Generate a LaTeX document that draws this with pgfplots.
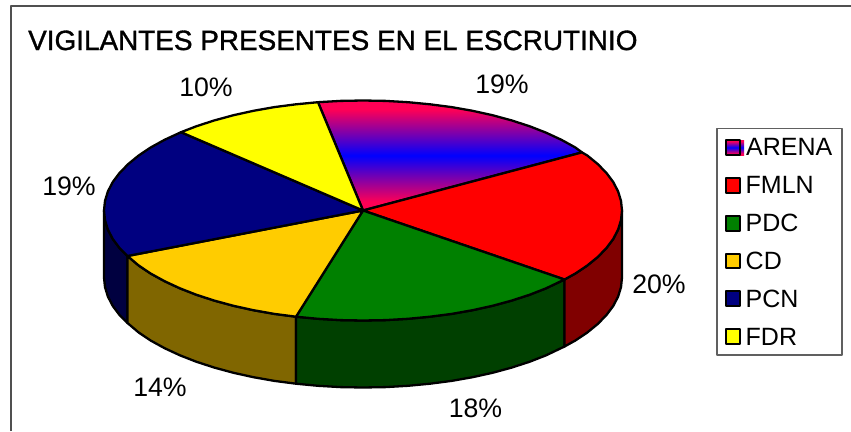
\documentclass[border=0pt]{standalone}
\usepackage{fontspec}
\setmainfont{Liberation Sans}
\newfontfamily\titlefont[FakeBold=1.2]{Liberation Sans}
\usepackage{pgfplots}
\pgfplotsset{compat=1.18}
\definecolor{cArena}{HTML}{FF0055}
\definecolor{cBlue}{HTML}{0000FF}
\definecolor{cRed}{HTML}{FF0000}
\definecolor{cGreen}{HTML}{008000}
\definecolor{cGold}{HTML}{FFCC00}
\definecolor{cNavy}{HTML}{000080}
\definecolor{cYel}{HTML}{FFFF00}
\definecolor{sRed}{HTML}{800000}
\definecolor{sGreen}{HTML}{004000}
\definecolor{sGold}{HTML}{806600}
\definecolor{sNavy}{HTML}{000040}
\definecolor{frameg}{HTML}{505050}
\definecolor{legg}{HTML}{606060}
\pgfdeclareverticalshading{arenashade}{100bp}{color(0bp)=(cArena); color(29bp)=(cArena); color(50bp)=(cBlue); color(71bp)=(cArena); color(100bp)=(cArena)}
\begin{document}
\begin{tikzpicture}
\useasboundingbox (0,0) rectangle (851pt,431pt);
\begin{axis}[
  at={(0,0)}, anchor=south west,
  scale only axis, width=851pt, height=431pt,
  xmin=0, xmax=851, ymin=0, ymax=431, y dir=reverse,
  hide axis,
  every axis plot/.append style={line join=round},
]
% frame
\addplot[draw=frameg, line width=2pt] coordinates {(11,431) (11,5.5) (851,5.5)};
% sides
\def\w{2.3pt}
\addplot[draw=black, line width=\w, fill=sNavy] coordinates {(104,210.5)(105,220.1)(107.9,229.6)(112.8,239)(119.6,248.1)(127.5,256)(127.5,323)(119.6,315.1)(112.8,306)(107.9,296.6)(105,287.1)(104,277.5)} --cycle;
\addplot[draw=black, line width=\w, fill=sGold] coordinates {(127.5,256)(138.7,265.5)(150.8,273.6)(164.6,281.2)(179.9,288.3)(196.5,294.8)(214.4,300.6)(233.5,305.8)(253.5,310.2)(274.4,313.9)(296,316.7)(296,383.7)(274.4,380.9)(253.5,377.2)(233.5,372.8)(214.4,367.6)(196.5,361.8)(179.9,355.3)(164.6,348.2)(150.8,340.6)(138.7,332.5)(127.5,323)} --cycle;
\addplot[draw=black, line width=\w, fill=sGreen] coordinates {(296,316.7)(318,318.8)(340.4,320.1)(363,320.5)(385.6,320.1)(408,318.8)(430,316.7)(451.6,313.9)(472.5,310.2)(492.5,305.8)(511.6,300.6)(529.5,294.8)(546.1,288.3)(564.5,279.5)(564.5,346.5)(546.1,355.3)(529.5,361.8)(511.6,367.6)(492.5,372.8)(472.5,377.2)(451.6,380.9)(430,383.7)(408,385.8)(385.6,387.1)(363,387.5)(340.4,387.1)(318,385.8)(296,383.7)} --cycle;
\addplot[draw=black, line width=\w, fill=sRed] coordinates {(564.5,279.5)(575.2,273.6)(587.3,265.5)(597.7,257)(606.4,248.1)(613.2,239)(618.1,229.6)(621,220.1)(622,210.5)(622,277.5)(621,287.1)(618.1,296.6)(613.2,306)(606.4,315.1)(597.7,324)(587.3,332.5)(575.2,340.6)(564.5,346.5)} --cycle;
% top faces
\addplot[draw=black, line width=\w, shade, shading=arenashade] coordinates {(363,210.5)(318,102.2)(340.4,100.9)(363,100.5)(385.6,100.9)(408,102.2)(430,104.3)(451.6,107.1)(472.5,110.8)(492.5,115.2)(511.6,120.4)(529.5,126.2)(546.1,132.7)(561.4,139.8)(575.2,147.4)(582,152.4)} --cycle;
\addplot[draw=black, line width=\w, fill=cRed] coordinates {(363,210.5)(582,152.4)(587.3,155.5)(597.7,164)(606.4,172.9)(613.2,182)(618.1,191.4)(621,200.9)(622,210.5)(621,220.1)(618.1,229.6)(613.2,239)(606.4,248.1)(597.7,257)(587.3,265.5)(575.2,273.6)(564.5,279.5)} --cycle;
\addplot[draw=black, line width=\w, fill=cGreen] coordinates {(363,210.5)(564.5,279.5)(546.1,288.3)(529.5,294.8)(511.6,300.6)(492.5,305.8)(472.5,310.2)(451.6,313.9)(430,316.7)(408,318.8)(385.6,320.1)(363,320.5)(340.4,320.1)(318,318.8)(296,316.7)} --cycle;
\addplot[draw=black, line width=\w, fill=cGold] coordinates {(363,210.5)(296,316.7)(274.4,313.9)(253.5,310.2)(233.5,305.8)(214.4,300.6)(196.5,294.8)(179.9,288.3)(164.6,281.2)(150.8,273.6)(138.7,265.5)(127.5,256)} --cycle;
\addplot[draw=black, line width=\w, fill=cNavy] coordinates {(363,210.5)(127.5,256)(119.6,248.1)(112.8,239)(107.9,229.6)(105,220.1)(104,210.5)(105,200.9)(107.9,191.4)(112.8,182)(119.6,172.9)(128.3,164)(138.7,155.5)(150.8,147.4)(164.6,139.8)(181,132.2)} --cycle;
\addplot[draw=black, line width=\w, fill=cYel] coordinates {(363,210.5)(181,132.2)(196.5,126.2)(214.4,120.4)(233.5,115.2)(253.5,110.8)(274.4,107.1)(296,104.3)(318,102.2)} --cycle;
% legend box
\addplot[draw=legg, line width=1.3pt, fill=white] coordinates {(717,128.5)(842,128.5)(842,355)(717,355)} --cycle;
% legend swatches
\addplot[draw=none, shade, shading=arenashade] coordinates {(726,140)(744,140)(744,155)(726,155)} --cycle;
\addplot[draw=black, line width=2.3pt] coordinates {(725.7,140)(740.3,140)(740.3,155)(725.7,155)} --cycle;
\addplot[draw=black, line width=2.3pt, fill=cRed] coordinates {(725.7,178)(740.3,178)(740.3,192.7)(725.7,192.7)} --cycle;
\addplot[draw=black, line width=2.3pt, fill=cGreen] coordinates {(725.7,216)(740.3,216)(740.3,230.7)(725.7,230.7)} --cycle;
\addplot[draw=black, line width=2.3pt, fill=cGold] coordinates {(725.7,253.7)(740.3,253.7)(740.3,268.3)(725.7,268.3)} --cycle;
\addplot[draw=black, line width=2.3pt, fill=cNavy] coordinates {(725.7,291.3)(740.3,291.3)(740.3,306)(725.7,306)} --cycle;
\addplot[draw=black, line width=2.3pt, fill=cYel] coordinates {(725.7,329.3)(740.3,329.3)(740.3,344)(725.7,344)} --cycle;
% legend text
\node[anchor=base west, inner sep=0pt, font=\fontsize{25}{26}\selectfont] at (axis cs:746,155.7) {ARENA};
\node[anchor=base west, inner sep=0pt, font=\fontsize{25}{26}\selectfont] at (axis cs:745.5,193.3) {FMLN};
\node[anchor=base west, inner sep=0pt, font=\fontsize{25}{26}\selectfont] at (axis cs:745.5,231.5) {PDC};
\node[anchor=base west, inner sep=0pt, font=\fontsize{25}{26}\selectfont] at (axis cs:745.5,269) {CD};
\node[anchor=base west, inner sep=0pt, font=\fontsize{25}{26}\selectfont] at (axis cs:745.5,307) {PCN};
\node[anchor=base west, inner sep=0pt, font=\fontsize{25}{26}\selectfont] at (axis cs:745.5,345) {FDR};
% data labels
\node[anchor=base, inner sep=0pt, font=\fontsize{26.7}{28}\selectfont] at (axis cs:502,93) {19\%};
\node[anchor=base, inner sep=0pt, font=\fontsize{26.7}{28}\selectfont] at (axis cs:659,293) {20\%};
\node[anchor=base, inner sep=0pt, font=\fontsize{26.7}{28}\selectfont] at (axis cs:475.5,417) {18\%};
\node[anchor=base, inner sep=0pt, font=\fontsize{26.7}{28}\selectfont] at (axis cs:160,396.5) {14\%};
\node[anchor=base, inner sep=0pt, font=\fontsize{26.7}{28}\selectfont] at (axis cs:69,195) {19\%};
\node[anchor=base, inner sep=0pt, font=\fontsize{26.7}{28}\selectfont] at (axis cs:206,96.5) {10\%};
% title
\node[anchor=base west, inner sep=0pt, font=\fontsize{27.9}{30}\titlefont] at (axis cs:28,50) {VIGILANTES PRESENTES EN EL ESCRUTINIO};
\end{axis}
\end{tikzpicture}
\end{document}
